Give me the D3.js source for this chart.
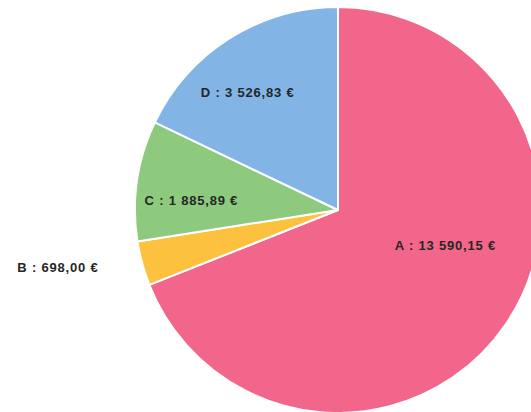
<!DOCTYPE html>
<html>
<head>
<meta charset="utf-8">
<script src="https://cdn.jsdelivr.net/npm/d3@7"></script>
<style>
  html, body { margin: 0; padding: 0; background: #fff; }
  svg { display: block; }
</style>
</head>
<body>
<svg></svg>
<script>
'use strict';
// data
var categories = ['A', 'B', 'C', 'D'];
var amounts = [13590.15, 698.00, 1885.89, 3526.83];
var colors = ['#f2668b', '#fcc23f', '#8dca7e', '#82b5e5'];

// label placement: shift (deg) from slice middle and distance from centre
var labelShift = [-16, 3.6, -4.4, -5.4];
var labelRadius = [113, 286, 147, 148];

var canvasWidth = 531;
var canvasHeight = 412;
var cx = 338, cy = 210, radius = 203;

var svg = d3.select('svg')
    .attr('width', canvasWidth)
    .attr('height', canvasHeight);

var g = svg.append('g')
    .attr('transform', 'translate(' + cx + ',' + cy + ')');

var data = categories.map(function (c, i) {
    return { cat: c, value: amounts[i], i: i };
});

var pie = d3.pie()
    .sort(null)
    .value(function (d) { return d.value; });

var arc = d3.arc()
    .innerRadius(0)
    .outerRadius(radius);

var arcs = pie(data);

g.selectAll('path')
    .data(arcs)
    .enter()
    .append('path')
    .attr('d', arc)
    .attr('fill', function (d) { return colors[d.data.i]; })
    .attr('stroke', '#fff')
    .attr('stroke-width', 2)
    .attr('stroke-linejoin', 'round');

// french style number: 13 590,15 €
var fmt = d3.formatLocale({
    decimal: ',',
    thousands: '\u00a0',
    grouping: [3],
    currency: ['', '\u00a0€']
}).format('$,.2f');

function labelAngle(d) {
    return (d.startAngle + d.endAngle) / 2 + labelShift[d.data.i] * Math.PI / 180;
}

g.selectAll('text')
    .data(arcs)
    .enter()
    .append('text')
    .attr('x', function (d) { return labelRadius[d.data.i] * Math.sin(labelAngle(d)); })
    .attr('y', function (d) { return -labelRadius[d.data.i] * Math.cos(labelAngle(d)); })
    .attr('dy', '0.35em')
    .attr('text-anchor', 'middle')
    .style('font-family', '"Liberation Sans", Arial, sans-serif')
    .style('font-weight', 'bold')
    .style('font-size', '13px')
    .style('letter-spacing', '0.8px')
    .style('fill', '#262626')
    .text(function (d) {
        return d.data.cat + ' : ' + fmt(d.data.value);
    });
</script>
</body>
</html>
